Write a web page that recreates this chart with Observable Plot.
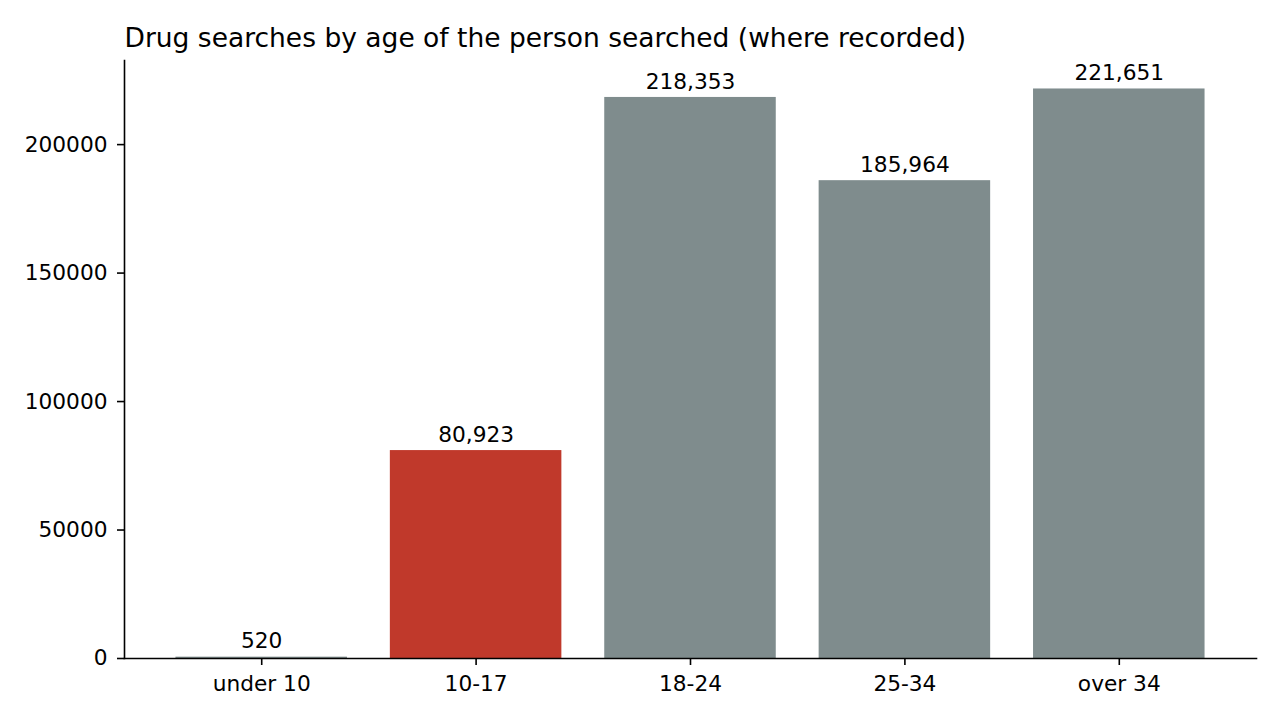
<!DOCTYPE html>
<html>
<head>
<meta charset="utf-8">
<script src="https://cdn.jsdelivr.net/npm/d3@7"></script>
<script src="https://cdn.jsdelivr.net/npm/@observablehq/plot@0.6"></script>
<style>
  html, body { margin: 0; padding: 0; background: #fff; }
  #chart { width: 1280px; height: 720px; }
</style>
</head>
<body>
<div id="chart"></div>
<script>
const title = "Drug searches by age of the person searched (where recorded)";
const categories = ["under 10", "10-17", "18-24", "25-34", "over 34"];
const values = [520, 80923, 218353, 185964, 221651];
const colors = ["#7f8c8d", "#c0392b", "#7f8c8d", "#7f8c8d", "#7f8c8d"];
const yTicks = [0, 50000, 100000, 150000, 200000];

const data = categories.map((c, i) => ({category: c, value: values[i], color: colors[i]}));
const yMax = d3.max(values) * 1.05;

const chart = Plot.plot({
  width: 1280,
  height: 720,
  marginLeft: 124,
  marginRight: 24,
  marginTop: 60,
  marginBottom: 62,
  style: {fontFamily: "DejaVu Sans", fontSize: "21.7px", color: "#000", background: "#fff"},
  x: {domain: categories, paddingInner: 0.2, paddingOuter: 0.24, round: false, label: null},
  y: {domain: [0, yMax], label: null},
  marks: [
    Plot.barY(data, {x: "category", y: "value", fill: "color"}),
    Plot.text(data, {x: "category", y: "value", text: d => d3.format(",")(d.value),
      lineAnchor: "bottom", dy: -8.7, fontSize: 21.7, fill: "#000"}),
    Plot.axisX({ticks: categories, tickSize: 7, tickPadding: 10, strokeWidth: 1.6, fontSize: 21.7, label: null, stroke: "#000", color: "#000"}),
    Plot.axisY({ticks: yTicks, tickFormat: d3.format("d"), tickSize: 7, tickPadding: 10, strokeWidth: 1.6, fontSize: 21.7, label: null, stroke: "#000", color: "#000"}),
    Plot.frame({anchor: "left", stroke: "#000", strokeWidth: 1.6}),
    Plot.frame({anchor: "bottom", stroke: "#000", strokeWidth: 1.6}),
    Plot.text([title], {frameAnchor: "top-left", textAnchor: "start", lineAnchor: "bottom", dy: -13.3, fontSize: 26.5, fill: "#000"})
  ]
});
document.getElementById("chart").appendChild(chart);
</script>
</body>
</html>
